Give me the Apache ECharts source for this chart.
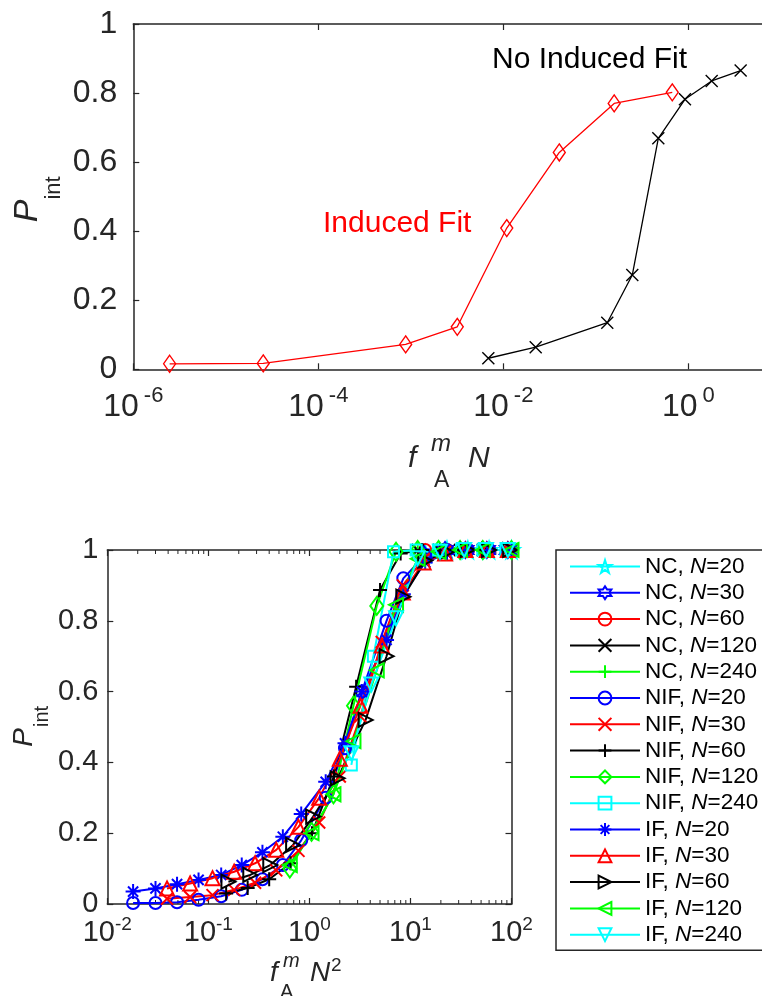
<!DOCTYPE html>
<html><head><meta charset="utf-8">
<script src="https://cdn.jsdelivr.net/npm/echarts@6/dist/echarts.min.js"></script>
<style>html,body{margin:0;padding:0;background:#fff}#c{width:762px;height:996px}</style>
</head><body><div id="c"></div><script>
// ---------- Top chart data ----------
const topXIF = [2.47e-6, 2.54e-5, 8.8e-4, 3.18e-3, 0.0109, 0.0403, 0.158, 0.671];
const topYIF = [0.016, 0.017, 0.072, 0.123, 0.409, 0.628, 0.770, 0.802];
const topXNIF = [6.89e-3, 0.0224, 0.133, 0.248, 0.474, 0.92, 1.79, 3.68];
const topYNIF = [0.032, 0.064, 0.135, 0.273, 0.669, 0.782, 0.835, 0.865];
const yTicks = [0, 0.2, 0.4, 0.6, 0.8, 1];

// ---------- Bottom chart data ----------
const xNC20 = [14, 23, 37, 60, 100];
const yNC20 = [0.99, 1, 1, 1, 1];
const xNC30 = [13.5, 22, 35, 57, 92];
const yNC30 = [0.99, 1, 1, 1, 1];
const xNC60 = [14, 23, 37, 60, 97];
const yNC60 = [1, 1, 1, 1, 1];
const xNC120 = [11.8, 19, 31, 52, 100];
const yNC120 = [1, 1, 1, 1, 1];
const xNC240 = [11.8, 19.6, 34, 56, 92];
const yNC240 = [1, 1, 1, 1, 1];

const xNIF20 = [0.018, 0.030, 0.049, 0.080, 0.134, 0.214, 0.343, 0.546, 0.83, 1.45, 2.25, 3.3, 5.8, 8.5, 14, 23, 37, 60, 100];
const yNIF20 = [0.003, 0.003, 0.005, 0.012, 0.022, 0.04, 0.07, 0.11, 0.18, 0.30, 0.44, 0.60, 0.80, 0.92, 0.985, 1, 1, 1, 1];
const xNIF30 = [0.039, 0.066, 0.11, 0.18, 0.29, 0.47, 0.78, 1.25, 2.0, 3.2, 5.2, 8.4, 13.5, 22, 35, 57, 92];
const yNIF30 = [0.015, 0.02, 0.025, 0.04, 0.06, 0.095, 0.15, 0.23, 0.36, 0.53, 0.74, 0.90, 0.975, 0.995, 1, 1, 1];
const xNIF60 = [0.15, 0.245, 0.40, 0.65, 1.06, 1.75, 2.9, 5.0, 8.0, 13, 21, 34, 55, 90];
const yNIF60 = [0.03, 0.045, 0.07, 0.115, 0.2, 0.36, 0.614, 0.887, 0.99, 1, 1, 1, 1, 1];
const xNIF120 = [0.64, 1.05, 1.73, 2.73, 4.64, 7.2, 11.8, 19, 31, 52, 100];
const yNIF120 = [0.10, 0.204, 0.31, 0.56, 0.842, 0.995, 1, 1, 1, 1, 1];
const xNIF240 = [2.6, 4.3, 6.8, 11.4, 19, 32, 52, 88];
const yNIF240 = [0.393, 0.70, 0.995, 1, 1, 1, 1, 1];

const xIF20 = [0.018, 0.030, 0.049, 0.080, 0.134, 0.214, 0.343, 0.546, 0.83, 1.45, 2.25, 3.3, 5.8, 8.5, 14, 23, 37, 60, 100];
const yIF20 = [0.035, 0.044, 0.056, 0.068, 0.082, 0.11, 0.146, 0.19, 0.254, 0.345, 0.454, 0.60, 0.746, 0.875, 0.965, 0.99, 1, 1, 1];
const xIF30 = [0.039, 0.066, 0.11, 0.18, 0.29, 0.47, 0.78, 1.25, 2.0, 3.2, 5.2, 8.4, 13.5, 22, 35, 57, 92];
const yIF30 = [0.044, 0.058, 0.073, 0.091, 0.115, 0.153, 0.218, 0.30, 0.41, 0.56, 0.73, 0.88, 0.965, 0.99, 1, 1, 1];
const xIF60 = [0.158, 0.26, 0.41, 0.69, 1.09, 1.9, 3.6, 5.8, 8.5, 14, 23, 37, 60, 97];
const yIF60 = [0.063, 0.082, 0.11, 0.167, 0.247, 0.355, 0.52, 0.70, 0.868, 0.97, 0.995, 1, 1, 1];
const xIF120 = [0.64, 1.05, 1.73, 2.73, 4.64, 7.2, 11.8, 19, 31, 52, 100];
const yIF120 = [0.11, 0.2, 0.31, 0.46, 0.66, 0.845, 0.975, 0.995, 1, 1, 1];
const xIF240 = [2.6, 4.1, 7.2, 11.8, 19.6, 34, 56, 92];
const yIF240 = [0.426, 0.62, 0.807, 0.977, 0.995, 1, 1, 1];

const minorTickValues = [0.02,0.03,0.04,0.05,0.06,0.07,0.08,0.09, 0.2,0.3,0.4,0.5,0.6,0.7,0.8,0.9, 2,3,4,5,6,7,8,9, 20,30,40,50,60,70,80,90];

// ---------- styling ----------
const FONT = '"Liberation Sans", Arial, Helvetica, sans-serif';
const AX = '#262626';
const C = {cyan:'#00FFFF', blue:'#0000FF', red:'#FF0000', black:'#000000', green:'#00FF00'};
function starPath(n, rOut, rIn) {
  let d = '';
  for (let k = 0; k < 2 * n; k++) {
    const a = -Math.PI / 2 + k * Math.PI / n;
    const r = k % 2 ? rIn : rOut;
    d += (k ? 'L' : 'M') + (10 + r * Math.cos(a)).toFixed(2) + ',' + (10 + r * Math.sin(a)).toFixed(2);
  }
  return 'path://' + d + 'Z';
}
const SYM = {
  star: starPath(5, 10, 3.82),
  hex: starPath(6, 10, 5.77),
  circle: 'circle',
  x: 'path://M0,0L10,10M10,0L0,10',
  plus: 'path://M5,0L5,10M0,5L10,5',
  diamond: 'diamond',
  square: 'rect',
  aster: 'path://M5,0L5,10M0,5L10,5M1.6,1.6L8.4,8.4M8.4,1.6L1.6,8.4',
  up: 'path://M5,0L10,10L0,10Z',
  right: 'path://M0,0L10,5L0,10Z',
  left: 'path://M10,0L0,5L10,10Z',
  down: 'path://M0,0L10,0L5,10Z'
};
const bottomSpecs = [
  ['NC, N=20', xNC20, yNC20, C.cyan, 'star', 16],
  ['NC, N=30', xNC30, yNC30, C.blue, 'hex', 16],
  ['NC, N=60', xNC60, yNC60, C.red, 'circle', 12],
  ['NC, N=120', xNC120, yNC120, C.black, 'x', 12],
  ['NC, N=240', xNC240, yNC240, C.green, 'plus', 14],
  ['NIF, N=20', xNIF20, yNIF20, C.blue, 'circle', 12],
  ['NIF, N=30', xNIF30, yNIF30, C.red, 'x', 12],
  ['NIF, N=60', xNIF60, yNIF60, C.black, 'plus', 14],
  ['NIF, N=120', xNIF120, yNIF120, C.green, 'diamond', [13, 18]],
  ['NIF, N=240', xNIF240, yNIF240, C.cyan, 'square', 11],
  ['IF, N=20', xIF20, yIF20, C.blue, 'aster', 15],
  ['IF, N=30', xIF30, yIF30, C.red, 'up', 14],
  ['IF, N=60', xIF60, yIF60, C.black, 'right', 14],
  ['IF, N=120', xIF120, yIF120, C.green, 'left', 14],
  ['IF, N=240', xIF240, yIF240, C.cyan, 'down', 14]
];
function pairs(xs, ys) { return xs.map((x, i) => [x, ys[i]]); }

const tickStyle = {show: true, inside: true, length: 6, lineStyle: {color: AX, width: 1.2}};
const lineAx = {show: true, onZero: false, lineStyle: {color: AX, width: 1.5}};
function expLabel(v) { return Math.round(Math.log10(v)); }

const series = [];
series.push({
  type: 'line', xAxisIndex: 0, yAxisIndex: 0, data: pairs(topXIF, topYIF),
  symbol: 'diamond', symbolSize: [12, 17], showAllSymbol: true,
  lineStyle: {color: C.red, width: 1.3},
  itemStyle: {color: 'rgba(0,0,0,0)', borderColor: C.red, borderWidth: 1.4},
  emphasis: {disabled: true}, z: 3
});
series.push({
  type: 'line', xAxisIndex: 0, yAxisIndex: 0, data: pairs(topXNIF, topYNIF),
  symbol: SYM.x, symbolSize: 12, showAllSymbol: true,
  lineStyle: {color: C.black, width: 1.3},
  itemStyle: {color: 'rgba(0,0,0,0)', borderColor: C.black, borderWidth: 1.4},
  emphasis: {disabled: true}, z: 3
});
bottomSpecs.forEach(s => {
  series.push({
    name: s[0], type: 'line', xAxisIndex: 2, yAxisIndex: 1, data: pairs(s[1], s[2]),
    symbol: SYM[s[4]], symbolSize: s[5], showAllSymbol: true, clip: false,
    lineStyle: {color: s[3], width: 2},
    itemStyle: {color: 'rgba(0,0,0,0)', borderColor: s[3], borderWidth: 2},
    emphasis: {disabled: true}, z: 3
  });
});
series.push({
  type: 'custom', xAxisIndex: 2, yAxisIndex: 1, silent: true, clip: false, z: 1,
  data: minorTickValues.map(v => [v, 0]),
  renderItem: function (params, api) {
    const v = api.value(0);
    const pb = api.coord([v, 0]);
    const pt = api.coord([v, 1]);
    const st = {stroke: AX, lineWidth: 1};
    return {type: 'group', children: [
      {type: 'line', shape: {x1: pb[0], y1: pb[1], x2: pb[0], y2: pb[1] - 4}, style: st},
      {type: 'line', shape: {x1: pt[0], y1: pt[1], x2: pt[0], y2: pt[1] + 4}, style: st}
    ]};
  }
});

function T(text, x, y, size, italic, color, rot) {
  return {type: 'text', x: x, y: y, rotation: rot || 0, silent: true,
    style: {text: text, fontSize: size, fontStyle: italic ? 'italic' : 'normal', fontFamily: FONT,
      fill: color || AX, align: rot ? 'center' : 'left', verticalAlign: 'middle'}};
}

const option = {
  animation: false,
  backgroundColor: '#fff',
  textStyle: {fontFamily: FONT},
  grid: [
    {left: 133.3, top: 24, width: 647.5, height: 345.3, outerBoundsMode: 'none', containLabel: false},
    {left: 107.3, top: 550, width: 404.2, height: 354, outerBoundsMode: 'none', containLabel: false}
  ],
  xAxis: [
    {type: 'log', logBase: 10, gridIndex: 0, min: 1e-6, max: 10, interval: 2, position: 'bottom',
      axisLine: lineAx, axisTick: tickStyle, splitLine: {show: false}, minorTick: {show: false},
      axisLabel: {margin: 16, color: AX,
        formatter: v => { const e = expLabel(v); return e > 0 ? '' : '{b|10}{e|' + e + '}'; },
        rich: {b: {fontSize: 32, lineHeight: 44, fontFamily: FONT, color: AX},
               e: {fontSize: 22, lineHeight: 22, verticalAlign: 'top', padding: [0, 0, 0, 5], fontFamily: FONT, color: AX}}}},
    {type: 'log', logBase: 10, gridIndex: 0, min: 1e-6, max: 10, interval: 2, position: 'top',
      axisLine: lineAx, axisTick: tickStyle, splitLine: {show: false}, axisLabel: {show: false}},
    {type: 'log', logBase: 10, gridIndex: 1, min: 0.01, max: 100, position: 'bottom',
      axisLine: lineAx, axisTick: tickStyle, splitLine: {show: false},
      axisLabel: {margin: 11, color: AX,
        formatter: v => '{b|10}{e|' + expLabel(v) + '}',
        rich: {b: {fontSize: 29, lineHeight: 36, fontFamily: FONT, color: AX},
               e: {fontSize: 19, lineHeight: 19, verticalAlign: 'top', fontFamily: FONT, color: AX}}}},
    {type: 'log', logBase: 10, gridIndex: 1, min: 0.01, max: 100, position: 'top',
      axisLine: lineAx, axisTick: tickStyle, splitLine: {show: false}, axisLabel: {show: false}}
  ],
  yAxis: [
    {type: 'value', gridIndex: 0, min: 0, max: 1, interval: 0.2, position: 'left',
      axisLine: lineAx, axisTick: tickStyle, splitLine: {show: false},
      axisLabel: {margin: 16, fontSize: 32, color: AX, fontFamily: FONT}},
    {type: 'value', gridIndex: 1, min: 0, max: 1, interval: 0.2, position: 'left',
      axisLine: lineAx, axisTick: tickStyle, splitLine: {show: false},
      axisLabel: {margin: 9, fontSize: 29, color: AX, fontFamily: FONT}},
    {type: 'value', gridIndex: 1, min: 0, max: 1, interval: 0.2, position: 'right',
      axisLine: lineAx, axisTick: tickStyle, splitLine: {show: false}, axisLabel: {show: false}}
  ],
  legend: {
    show: true, orient: 'vertical', left: 556, top: 550, padding: [5, 40, 4, 13],
    itemWidth: 70, itemHeight: 16, itemGap: 3.3, selectedMode: false,
    borderColor: AX, borderWidth: 1.5, backgroundColor: '#fff',
    data: bottomSpecs.map(s => s[0]),
    formatter: name => name.replace('N=', '{i|N}='),
    textStyle: {fontSize: 22.5, lineHeight: 22, color: '#000', fontFamily: FONT,
      rich: {i: {fontSize: 22.5, lineHeight: 22, fontStyle: 'italic', color: '#000', fontFamily: FONT}}}
  },
  graphic: [
    T('Induced Fit', 323, 224, 30, false, C.red),
    T('No Induced Fit', 492, 60, 30, false, '#000'),
    // top x label
    T('f', 408, 459, 30, true),
    T('m', 431, 444, 24, true),
    T('A', 434, 481, 23, false),
    T('N', 468, 459, 30, true),
    // top y label
    T('P', 27.5, 211, 34, true, AX, Math.PI / 2),
    T('int', 53.5, 188, 22, false, AX, Math.PI / 2),
    // bottom x label
    T('f', 270, 973, 28, true),
    T('m', 283, 961, 20, true),
    T('A', 280, 992, 20, false),
    T('N', 310, 973, 28, true),
    T('2', 331, 966, 19, false),
    // bottom y label
    T('P', 24, 737.5, 28, true, AX, Math.PI / 2),
    T('int', 42.5, 716.5, 20, false, AX, Math.PI / 2)
  ],
  series: series
};
const chart = echarts.init(document.getElementById('c'), null, {renderer: 'canvas'});
chart.setOption(option);
</script></body></html>
